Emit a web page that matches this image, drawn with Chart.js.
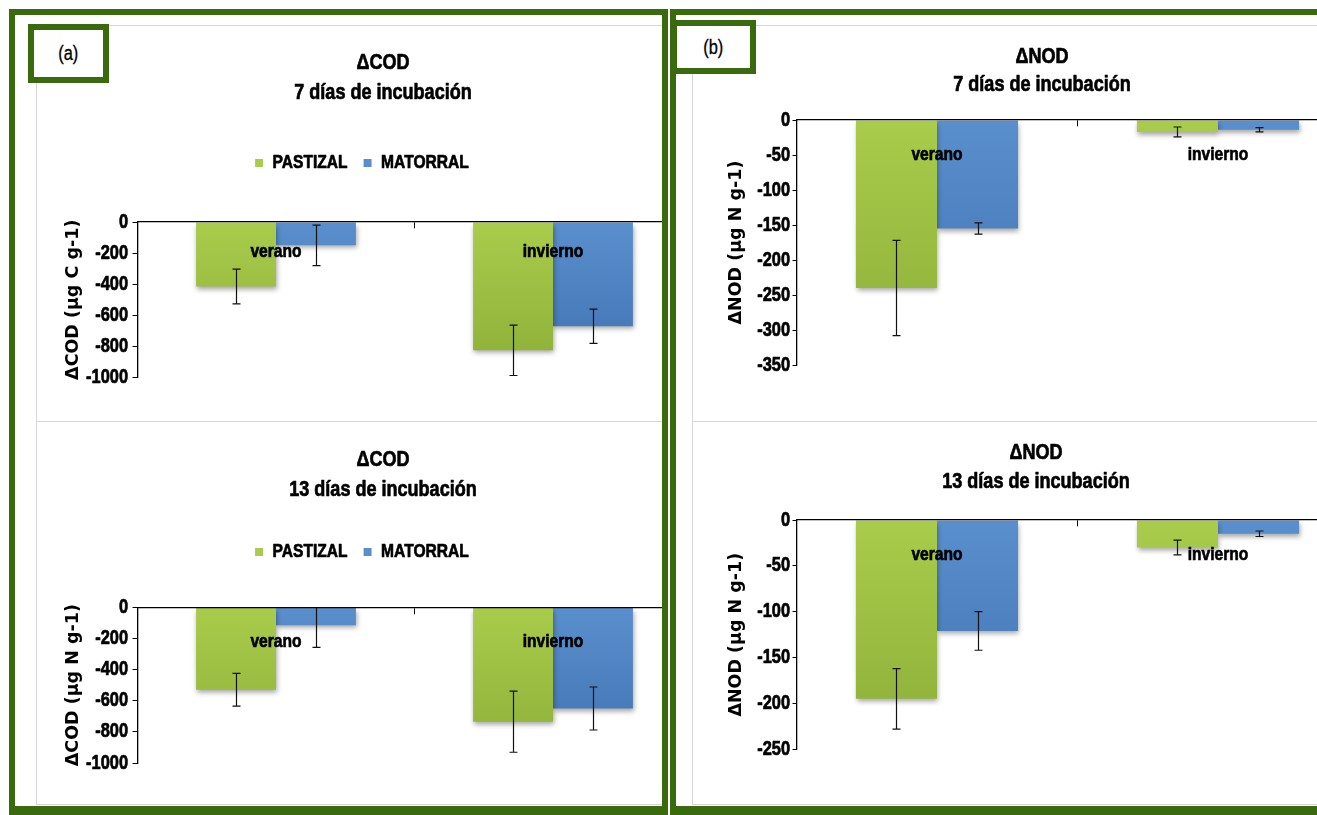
<!DOCTYPE html>
<html lang="es">
<head>
<meta charset="utf-8">
<title>ΔCOD y ΔNOD</title>
<script src="https://cdn.jsdelivr.net/npm/chart.js@4.4.1/dist/chart.umd.min.js"></script>
<style>
  html, body { margin: 0; padding: 0; background: #fff; }
  body { position: relative; width: 1317px; height: 815px; overflow: hidden;
         font-family: 'Liberation Sans', Arial, sans-serif; }
  .frame { position: absolute; box-sizing: border-box; border: 6px solid #3a6a0e; border-bottom-width: 10px; }
  .clip { position: absolute; overflow: hidden; }
  .clip canvas { position: absolute; }
  .rule { position: absolute; background: #d6d6d6; }
  .tag { position: absolute; box-sizing: border-box; border: 6px solid #3a6a0e; background: #fff;
         display: flex; align-items: center; justify-content: center; z-index: 3; }
  .tag span { display: inline-block; font-size: 20px; color: #000; transform: scaleX(0.82);
              -webkit-text-stroke: 0.3px #000; }
</style>
</head>
<body>
<div class="frame" style="left:9px;top:9px;width:659px;height:807px;"></div>
<div class="frame" style="left:670px;top:9px;width:700px;height:807px;"></div>

<div class="clip" style="left:15px;top:15px;width:647px;height:791px;">
  <div class="rule" style="left:21px;top:10px;width:640px;height:1px;"></div>
  <div class="rule" style="left:21px;top:10px;width:1px;height:779px;"></div>
  <div class="rule" style="left:21px;top:406px;width:640px;height:1px;"></div>
  <div class="rule" style="left:21px;top:789px;width:640px;height:1px;"></div>
  <canvas id="codDay7" width="694" height="395" style="left:21px;top:10px;"></canvas>
  <canvas id="codDay13" width="694" height="382" style="left:21px;top:407px;"></canvas>
</div>

<div class="clip" style="left:676px;top:15px;width:641px;height:791px;">
  <div class="rule" style="left:16px;top:10px;width:700px;height:1px;"></div>
  <div class="rule" style="left:16px;top:10px;width:1px;height:779px;"></div>
  <div class="rule" style="left:16px;top:406px;width:700px;height:1px;"></div>
  <div class="rule" style="left:16px;top:789px;width:700px;height:1px;"></div>
  <canvas id="nodDay7" width="700" height="395" style="left:16px;top:10px;"></canvas>
  <canvas id="nodDay13" width="688" height="382" style="left:16px;top:407px;"></canvas>
</div>

<div class="tag" style="left:28px;top:24px;width:81px;height:59px;"><span>(a)</span></div>
<div class="tag" style="left:671px;top:20px;width:85px;height:54px;"><span>(b)</span></div>

<script>
// ---- data ----
const seriesNames = ['PASTIZAL', 'MATORRAL'];
const seasons = ['verano', 'invierno'];

// ΔCOD, 7 días de incubación (µg C g-1)
const cod7Pastizal = [-415, -825];
const cod7PastizalErr = [112, 162];
const cod7Matorral = [-150, -670];
const cod7MatorralErr = [130, 110];

// ΔCOD, 13 días de incubación
const cod13Pastizal = [-530, -735];
const cod13PastizalErr = [105, 196];
const cod13Matorral = [-115, -650];
const cod13MatorralErr = [142, 138];

// ΔNOD, 7 días de incubación (µg N g-1)
const nod7Pastizal = [-240, -17];
const nod7PastizalErr = [68, 7];
const nod7Matorral = [-155, -14];
const nod7MatorralErr = [8, 3];

// ΔNOD, 13 días de incubación
const nod13Pastizal = [-195, -30];
const nod13PastizalErr = [33, 8];
const nod13Matorral = [-121, -15];
const nod13MatorralErr = [21, 3];

const codTicks = [0, -200, -400, -600, -800, -1000];
const nod7Ticks = [0, -50, -100, -150, -200, -250, -300, -350];
const nod13Ticks = [0, -50, -100, -150, -200, -250];

const titleCod7 = ['ΔCOD', '7 días de incubación'];
const titleCod13 = ['ΔCOD', '13 días de incubación'];
const titleNod7 = ['ΔNOD', '7 días de incubación'];
const titleNod13 = ['ΔNOD', '13 días de incubación'];

const yTitleCod7 = 'ΔCOD (µg C g-1)';
const yTitleCod13 = 'ΔCOD (µg N g-1)';
const yTitleNod = 'ΔNOD (µg N g-1)';

// ---- styling ----
const NARROW = "'Liberation Sans', Arial, sans-serif";
const WIDE = "'DejaVu Sans', sans-serif";
const GREEN = ['#a9cc4c', '#8cae37'];
const BLUE = ['#5a8fcd', '#3e70ae'];

// Condensed rendering for the Liberation Sans labels (narrow face look):
// glyphs are squeezed horizontally around their anchor, slightly emboldened,
// and measured accordingly so the layout stays consistent.
const CONDENSE = 0.82;
(function () {
  const proto = CanvasRenderingContext2D.prototype;
  const baseFill = proto.fillText;
  const baseMeasure = proto.measureText;
  const isNarrow = (c) => c.font.indexOf('Liberation Sans') !== -1;
  proto.fillText = function (text, x, y, maxWidth) {
    if (!isNarrow(this)) return baseFill.apply(this, arguments);
    this.save();
    this.translate(x, y);
    this.scale(CONDENSE, 1);
    if (maxWidth === undefined) baseFill.call(this, text, 0, 0);
    else baseFill.call(this, text, 0, 0, maxWidth / CONDENSE);
    this.strokeStyle = this.fillStyle;
    this.lineWidth = 0.7;
    this.lineJoin = 'round';
    if (maxWidth === undefined) this.strokeText(text, 0, 0);
    else this.strokeText(text, 0, 0, maxWidth / CONDENSE);
    this.restore();
  };
  proto.measureText = function (text) {
    const m = baseMeasure.call(this, text);
    if (!isNarrow(this)) return m;
    return {
      width: m.width * CONDENSE,
      actualBoundingBoxLeft: m.actualBoundingBoxLeft * CONDENSE,
      actualBoundingBoxRight: m.actualBoundingBoxRight * CONDENSE,
      actualBoundingBoxAscent: m.actualBoundingBoxAscent,
      actualBoundingBoxDescent: m.actualBoundingBoxDescent,
      fontBoundingBoxAscent: m.fontBoundingBoxAscent,
      fontBoundingBoxDescent: m.fontBoundingBoxDescent
    };
  };
})();

function verticalFill(colors) {
  return (c) => {
    const area = c.chart.chartArea;
    if (!area) return colors[1];
    const g = c.chart.ctx.createLinearGradient(0, area.top, 0, area.bottom);
    g.addColorStop(0, colors[0]);
    g.addColorStop(1, colors[1]);
    return g;
  };
}

// soft drop shadow under the bars
const barShadow = {
  id: 'barShadow',
  beforeDatasetsDraw(chart) {
    const c = chart.ctx;
    c.save();
    c.shadowColor = 'rgba(0,0,0,0.35)';
    c.shadowBlur = 5;
    c.shadowOffsetX = 1;
    c.shadowOffsetY = 3;
  },
  afterDatasetsDraw(chart) { chart.ctx.restore(); }
};

// ± error whiskers at the centre of every bar
const errorBars = {
  id: 'errorBars',
  afterDatasetsDraw(chart) {
    const {ctx, chartArea: a, scales: {y}} = chart;
    ctx.save();
    ctx.beginPath();
    ctx.rect(a.left, a.top, a.width, a.height + 60);
    ctx.clip();
    ctx.strokeStyle = '#111';
    ctx.lineWidth = 1.2;
    chart.data.datasets.forEach((ds, i) => {
      chart.getDatasetMeta(i).data.forEach((bar, j) => {
        const v = ds.data[j], e = ds.errors[j];
        const x = Math.round(bar.x) + 0.5;
        const yLow = y.getPixelForValue(v - e);
        const yHigh = y.getPixelForValue(v + e);
        ctx.beginPath();
        ctx.moveTo(x, yHigh); ctx.lineTo(x, yLow);
        ctx.moveTo(x - 4, yHigh); ctx.lineTo(x + 4, yHigh);
        ctx.moveTo(x - 4, yLow); ctx.lineTo(x + 4, yLow);
        ctx.stroke();
      });
    });
    ctx.restore();
  }
};

function buildChart(id, spec, g) {
  const datasets = [
    {label: seriesNames[0], data: spec.pastizal, errors: spec.pastizalErr, backgroundColor: verticalFill(GREEN)},
    {label: seriesNames[1], data: spec.matorral, errors: spec.matorralErr, backgroundColor: verticalFill(BLUE)}
  ].map(d => Object.assign(d, {borderWidth: 0, categoryPercentage: 0.577, barPercentage: 1, xAxisID: 'x', yAxisID: 'y'}));

  const tickValues = spec.ticks;
  return new Chart(document.getElementById(id), {
    type: 'bar',
    data: {labels: spec.labels, datasets},
    options: {
      responsive: false,
      animation: false,
      events: [],
      layout: {padding: {left: 0, right: 0, top: 0, bottom: g.padBottom}},
      plugins: {
        tooltip: {enabled: false},
        title: {
          display: true, text: spec.title, color: '#000',
          font: {family: NARROW, size: 22, weight: 'bold', lineHeight: g.titleLH},
          padding: {top: g.titleTop, bottom: g.titleBottom}
        },
        legend: {
          display: spec.legend,
          position: 'top',
          labels: {
            color: '#000', boxWidth: 8, boxHeight: 8, padding: 16,
            font: {family: NARROW, size: 19, weight: 'bold'},
            generateLabels(chart) {
              const items = Chart.defaults.plugins.legend.labels.generateLabels(chart);
              // blank trailing entry keeps the key a little left of the title
              items.push({text: '  ', fillStyle: 'rgba(0,0,0,0)', strokeStyle: 'rgba(0,0,0,0)', lineWidth: 0, hidden: false, datasetIndex: -1});
              return items;
            }
          }
        }
      },
      scales: {
        x: {
          type: 'category', position: {y: 0}, offset: true,
          grid: {display: true, offset: true, drawOnChartArea: false, drawTicks: true, tickLength: 6, color: '#000', lineWidth: 1},
          border: {display: true, color: '#000', width: 1.3, z: 1},
          ticks: {z: 1, padding: g.catPad, color: '#000', font: {family: NARROW, size: 19, weight: 'bold'}}
        },
        spacer: {
          type: 'category', position: 'top', display: true,
          grid: {display: false, drawTicks: false}, border: {display: false}, ticks: {display: false},
          afterFit(s) { s.height = g.gap; }
        },
        y: {
          type: 'linear', position: 'left', min: tickValues[tickValues.length - 1], max: 0,
          afterBuildTicks(s) { s.ticks = tickValues.map(v => ({value: v})); },
          afterFit(s) { s.width = g.axisW; },
          grid: {drawOnChartArea: false, drawTicks: true, tickLength: g.tickLen, color: '#000'},
          border: {display: true, color: '#000', width: 1.3},
          ticks: {padding: g.tickPad, color: '#000', font: {family: NARROW, size: 20, weight: 'bold'}, callback: v => String(v)},
          title: {display: true, text: spec.yTitle, color: '#000', font: {family: WIDE, size: 17.5, weight: 'bold'}, padding: {top: g.yTitlePad, bottom: 0}}
        },
        yRight: {
          type: 'linear', position: 'right', display: true,
          grid: {display: false, drawTicks: false}, border: {display: false}, ticks: {display: false},
          afterFit(s) { s.width = g.rightW; }
        }
      }
    },
    plugins: [barShadow, errorBars]
  });
}

buildChart('codDay7', {
  labels: seasons, title: titleCod7, yTitle: yTitleCod7, legend: true, ticks: codTicks,
  pastizal: cod7Pastizal, pastizalErr: cod7PastizalErr, matorral: cod7Matorral, matorralErr: cod7MatorralErr
}, {padBottom: 42.5, titleLH: '30px', titleTop: 23, titleBottom: 29.5, gap: 39.5, axisW: 101.5, rightW: 38.5,
    yTitlePad: 26.5, catPad: 12.6, tickLen: 5, tickPad: 4.5});

buildChart('codDay13', {
  labels: seasons, title: titleCod13, yTitle: yTitleCod13, legend: true, ticks: codTicks,
  pastizal: cod13Pastizal, pastizalErr: cod13PastizalErr, matorral: cod13Matorral, matorralErr: cod13MatorralErr
}, {padBottom: 41, titleLH: '30px', titleTop: 23, titleBottom: 21.5, gap: 35.8, axisW: 101.5, rightW: 38.5,
    yTitlePad: 27, catPad: 17, tickLen: 5, tickPad: 4.5});

buildChart('nodDay7', {
  labels: seasons, title: titleNod7, yTitle: yTitleNod, legend: false, ticks: nod7Ticks,
  pastizal: nod7Pastizal, pastizalErr: nod7PastizalErr, matorral: nod7Matorral, matorralErr: nod7MatorralErr
}, {padBottom: 55, titleLH: '28px', titleTop: 18, titleBottom: 21, gap: 0, axisW: 104.5, rightW: 33.5,
    yTitlePad: 33.5, catPad: 17.6, tickLen: 4, tickPad: 2.5});

buildChart('nodDay13', {
  labels: seasons, title: titleNod13, yTitle: yTitleNod, legend: false, ticks: nod13Ticks,
  pastizal: nod13Pastizal, pastizalErr: nod13PastizalErr, matorral: nod13Matorral, matorralErr: nod13MatorralErr
}, {padBottom: 54.7, titleLH: '29px', titleTop: 16.5, titleBottom: 23.5, gap: 0, axisW: 104.5, rightW: 21.5,
    yTitlePad: 34, catPad: 16.9, tickLen: 4, tickPad: 2.5});
</script>
</body>
</html>
